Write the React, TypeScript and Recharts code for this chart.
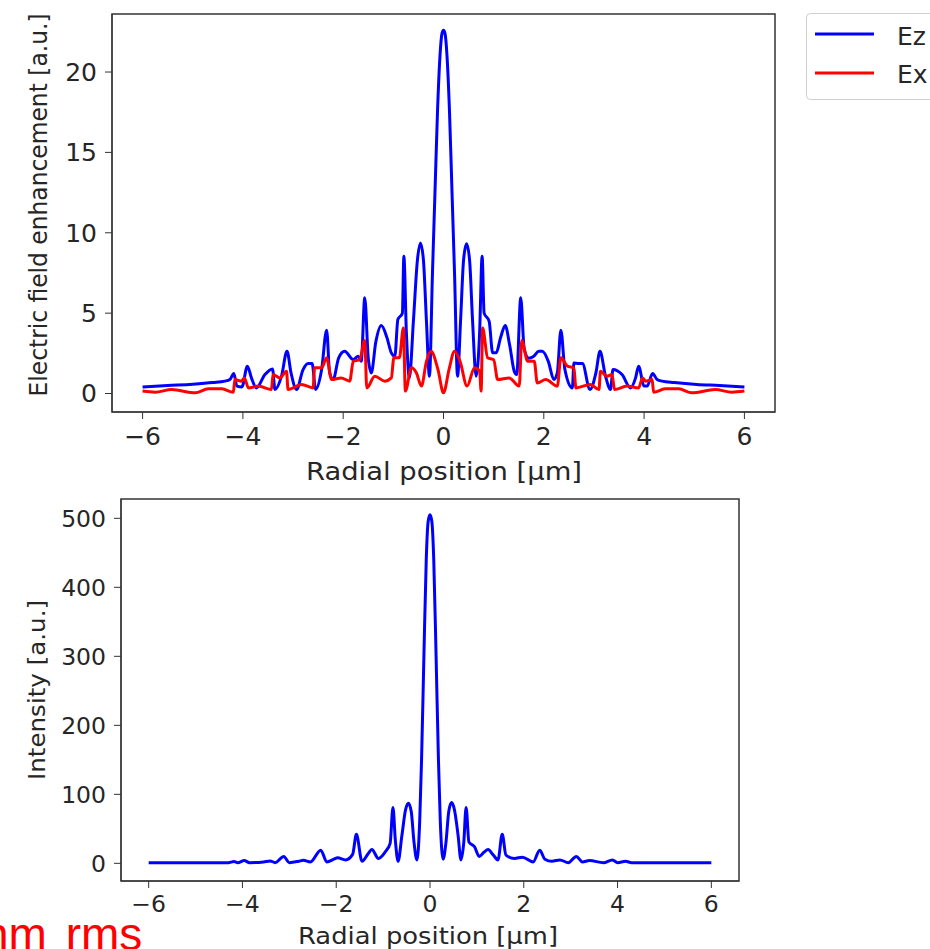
import React from 'react';
import { LineChart, Line, XAxis, YAxis, ReferenceArea } from 'recharts';

// Ez (blue), top panel
const ezPos = [
  -6.0, -5.5, -5.0, -4.6, -4.36, -4.26, -4.18, -4.12, -4.02, -3.91, -3.83, -3.73, -3.56, -3.41, -3.36,
  -3.23, -3.12, -3.04, -2.93, -2.8, -2.7, -2.62, -2.55, -2.43, -2.33, -2.27, -2.2, -2.09, -1.97, -1.8,
  -1.7, -1.64, -1.57, -1.5, -1.44, -1.35, -1.24, -1.13, -1.04, -0.97, -0.91, -0.82, -0.79, -0.74, -0.68,
  -0.6, -0.52, -0.46, -0.4, -0.34, -0.28, -0.22, -0.17, -0.12, -0.07, -0.03, 0,
  0.03, 0.07, 0.12, 0.17, 0.22, 0.28, 0.34, 0.4, 0.46, 0.52, 0.58, 0.65, 0.72, 0.77, 0.81, 0.91, 0.98,
  1.05, 1.14, 1.23, 1.32, 1.41, 1.46, 1.54, 1.61, 1.7, 1.8, 1.9, 1.97, 2.09, 2.2, 2.27, 2.34, 2.42, 2.57,
  2.6, 2.7, 2.77, 2.92, 3.04, 3.12, 3.23, 3.33, 3.38, 3.56, 3.73, 3.83, 3.89, 4.0, 4.06, 4.17, 4.26, 4.36,
  4.6, 5.05, 5.5, 6.0,
];
const ezVal = [
  0.41, 0.5, 0.58, 0.68, 0.77, 0.87, 1.24, 0.46, 0.41, 1.7, 0.97, 0.35, 1.18, 1.53, 0.25,
  1.08, 2.63, 1.28, 0.25, 1.49, 1.87, 1.87, 0.25, 1.49, 3.94, 1.28, 0.87, 2.22, 2.63, 2.11,
  2.32, 2.0, 5.95, 2.2, 1.28, 3.2, 4.23, 3.5, 2.53, 2.32, 4.6, 5.0, 8.54, 3.77, 0.97,
  4.5, 8.3, 9.37, 8.3, 4.5, 1.08, 7.5, 12.5, 17.5, 21.0, 22.4, 22.6,
  22.4, 21.0, 17.5, 12.5, 7.5, 1.08, 4.5, 8.3, 9.31, 8.3, 4.5, 1.08, 3.77, 8.54, 5.0, 4.5, 2.53,
  2.53, 3.5, 4.23, 3.0, 1.39, 1.18, 5.95, 2.74, 2.2, 2.32, 2.63, 2.63, 2.0, 0.87, 1.3, 3.94, 1.5, 0.35,
  1.9, 1.87, 1.87, 0.25, 1.3, 2.63, 1.08, 0.25, 1.5, 1.18, 0.35, 0.97, 1.7, 0.46, 0.46, 1.24, 0.87, 0.77,
  0.68, 0.56, 0.5, 0.41,
];

// Ex (red), top panel
const exPos = [
  -6.0, -5.75, -5.42, -4.95, -4.69, -4.42, -4.19, -4.16, -4.03, -3.97, -3.89, -3.69, -3.43, -3.4, -3.26,
  -3.13, -3.1, -2.83, -2.6, -2.57, -2.43, -2.33, -2.23, -2.04, -1.87, -1.8, -1.67, -1.57, -1.53, -1.37,
  -1.17, -1.04, -0.99, -0.88, -0.8, -0.76, -0.64, -0.54, -0.44, -0.34, -0.25, -0.11, 0,
  0.11, 0.22, 0.33, 0.47, 0.62, 0.72, 0.75, 0.78, 0.88, 1.0, 1.08, 1.31, 1.51, 1.56, 1.68, 1.81, 1.87,
  2.04, 2.27, 2.34, 2.47, 2.6, 2.64, 2.93, 3.1, 3.13, 3.26, 3.36, 3.41, 3.66, 3.89, 3.97, 4.03, 4.16,
  4.19, 4.42, 4.69, 4.95, 5.42, 5.75, 6.0,
];
const exVal = [
  0.15, 0.08, 0.25, 0.04, 0.29, 0.29, 0.08, 0.87, 0.77, 0.97, 0.35, 0.46, 0.25, 1.18, 0.97,
  1.39, 0.25, 0.56, 0.35, 1.6, 1.6, 2.22, 0.87, 0.97, 0.77, 2.0, 2.11, 3.3, 0.35, 1.08,
  0.77, 0.97, 2.22, 2.22, 4.08, 0.15, 1.6, 1.28, 0.46, 2.0, 2.63, 1.49, 0.04,
  1.49, 2.63, 2.0, 0.46, 1.6, 1.39, 0.15, 4.08, 2.22, 2.1, 0.87, 0.97, 0.46, 3.3, 2.0, 2.0, 0.66,
  0.87, 0.46, 2.22, 1.7, 1.6, 0.35, 0.56, 0.25, 1.39, 1.08, 1.18, 0.25, 0.46, 0.35, 0.97, 0.77, 0.87,
  0.08, 0.29, 0.29, 0.04, 0.25, 0.08, 0.15,
];

// Intensity, bottom panel
const intensityPos = [
  -6.0, -5.0, -4.3, -4.18, -4.1, -3.96, -3.85, -3.55, -3.41, -3.3, -3.12, -3.0, -2.8, -2.7, -2.55,
  -2.33, -2.2, -2.05, -1.97, -1.8, -1.65, -1.57, -1.45, -1.32, -1.24, -1.1, -0.95, -0.85, -0.79, -0.74,
  -0.68, -0.6, -0.52, -0.46, -0.4, -0.34, -0.28, -0.22, -0.18, -0.13, -0.08, -0.04, 0,
  0.04, 0.08, 0.13, 0.18, 0.22, 0.28, 0.34, 0.4, 0.46, 0.52, 0.6, 0.66, 0.72, 0.77, 0.83, 0.95, 1.05,
  1.15, 1.24, 1.35, 1.45, 1.54, 1.62, 1.8, 1.97, 2.2, 2.34, 2.45, 2.6, 2.77, 2.95, 3.12, 3.25, 3.4,
  3.7, 3.89, 4.0, 4.17, 4.3, 5.0, 6.0,
];
const intensityVal = [
  1, 1, 1, 2.5, 1, 4, 1, 2, 3.5, 1, 10, 1, 3, 4.5, 2,
  19, 2, 6, 8, 5, 13, 42, 3, 14, 20, 7, 17, 29, 81, 34,
  3, 40, 78, 87, 75, 30, 5, 60, 150, 300, 440, 495, 505,
  495, 440, 300, 150, 60, 6, 30, 75, 88, 78, 40, 5, 30, 81, 31, 24, 10,
  16, 20, 12, 5, 42, 12, 7, 9, 2, 19, 6, 3, 5, 1, 10, 2, 4,
  1, 5, 1, 3, 1, 1, 1,
];

const xTicks = [-6, -4, -2, 0, 2, 4, 6];
const fieldTicks = [0, 5, 10, 15, 20];
const intensityTicks = [0, 100, 200, 300, 400, 500];

const ezData = ezPos.map((x, i) => ({ x, y: ezVal[i] }));
const exData = exPos.map((x, i) => ({ x, y: exVal[i] }));
const intensityData = intensityPos.map((x, i) => ({ x, y: intensityVal[i] }));

const FONT = '"DejaVu Sans", sans-serif';
const INK = '#262626';
const fmt = (v: number) => (v < 0 ? `\u2212${Math.abs(v)}` : `${v}`);

// axis titles drawn as plain svg text; textLength matches the stretched look of the original
const yTitle = (text: string, cx: number, cy: number, size: number, len: number) => () => (
  <text
    x={cx}
    y={cy}
    transform={`rotate(-90, ${cx}, ${cy})`}
    textAnchor="middle"
    dominantBaseline="central"
    fontFamily={FONT}
    fontSize={size}
    fill={INK}
    textLength={len}
    lengthAdjust="spacingAndGlyphs"
  >
    {text}
  </text>
);

const xTitle = (text: string, cx: number, baseline: number, size: number, len: number) => () => (
  <text
    x={cx}
    y={baseline}
    textAnchor="middle"
    fontFamily={FONT}
    fontSize={size}
    fill={INK}
    textLength={len}
    lengthAdjust="spacingAndGlyphs"
  >
    {text}
  </text>
);

export default function App() {
  return (
    <div style={{ position: 'absolute', left: 0, top: 0, width: 930, height: 949, overflow: 'hidden', background: '#fff' }}>
      <div style={{ position: 'absolute', left: 0, top: 0 }}>
        <LineChart width={930} height={500} margin={{ top: 14, right: 155, left: 0, bottom: 0 }}>
          <XAxis
            dataKey="x"
            type="number"
            domain={[-6.61, 6.61]}
            allowDataOverflow
            ticks={xTicks}
            interval={0}
            tickFormatter={fmt}
            height={88}
            tickSize={7}
            tickMargin={8}
            stroke="#333"
            tick={{ fill: INK, fontSize: 25, fontFamily: FONT }}
            label={{ content: xTitle('Radial position [µm]', 444, 480, 25, 276) }}
          />
          <YAxis
            type="number"
            domain={[-1.15, 23.61]}
            allowDataOverflow
            ticks={fieldTicks}
            interval={0}
            width={112}
            tickSize={7}
            tickMargin={8}
            stroke="#333"
            tick={{ fill: INK, fontSize: 25, fontFamily: FONT }}
            label={{ content: yTitle('Electric field enhancement [a.u.]', 38, 205, 25, 383) }}
          />
          <ReferenceArea x1={-6.61} x2={6.61} y1={-1.15} y2={23.61} fill="none" stroke="#333" strokeWidth={1.5} />
          <Line data={ezData} dataKey="y" type="monotone" stroke="#0000ff" strokeWidth={3} dot={false} isAnimationActive={false} />
          <Line data={exData} dataKey="y" type="monotone" stroke="#ff0000" strokeWidth={3} dot={false} isAnimationActive={false} />
        </LineChart>
      </div>

      <svg style={{ position: 'absolute', left: 0, top: 0 }} width={930} height={110}>
        <rect x={806.5} y={13.5} width={140} height={86} rx={4} fill="#fff" stroke="#d0d0d0" strokeWidth={1} />
        <line x1={815} x2={874} y1={34} y2={34} stroke="#0000ff" strokeWidth={3} />
        <line x1={815} x2={874} y1={73} y2={73} stroke="#ff0000" strokeWidth={3} />
        <text x={897} y={45} fontFamily={FONT} fontSize={25} fill={INK}>Ez</text>
        <text x={897} y={83} fontFamily={FONT} fontSize={25} fill={INK}>Ex</text>
      </svg>

      <div style={{ position: 'absolute', left: 0, top: 480 }}>
        <LineChart width={930} height={469} margin={{ top: 19, right: 191, left: 0, bottom: 0 }}>
          <XAxis
            dataKey="x"
            type="number"
            domain={[-6.59, 6.59]}
            allowDataOverflow
            ticks={xTicks}
            interval={0}
            tickFormatter={fmt}
            height={68}
            tickSize={7}
            tickMargin={7}
            stroke="#333"
            tick={{ fill: INK, fontSize: 23.5, fontFamily: FONT }}
            label={{ content: xTitle('Radial position [µm]', 428, 464, 23.5, 260) }}
          />
          <YAxis
            type="number"
            domain={[-25.6, 528]}
            allowDataOverflow
            ticks={intensityTicks}
            interval={0}
            width={121}
            tickSize={7}
            tickMargin={8}
            stroke="#333"
            tick={{ fill: INK, fontSize: 23.5, fontFamily: FONT }}
            label={{ content: yTitle('Intensity [a.u.]', 37, 210, 23.5, 180) }}
          />
          <ReferenceArea x1={-6.59} x2={6.59} y1={-25.6} y2={528} fill="none" stroke="#333" strokeWidth={1.5} />
          <Line data={intensityData} dataKey="y" type="monotone" stroke="#0000ff" strokeWidth={3} dot={false} isAnimationActive={false} />
        </LineChart>
      </div>

      <div
        style={{
          position: 'absolute',
          left: -17,
          top: 906,
          fontFamily: '"Liberation Sans", Arial, sans-serif',
          fontSize: 46,
          color: '#ff0000',
          wordSpacing: 6,
          whiteSpace: 'nowrap',
          lineHeight: '56px',
        }}
      >
        nm rms
      </div>
    </div>
  );
}
